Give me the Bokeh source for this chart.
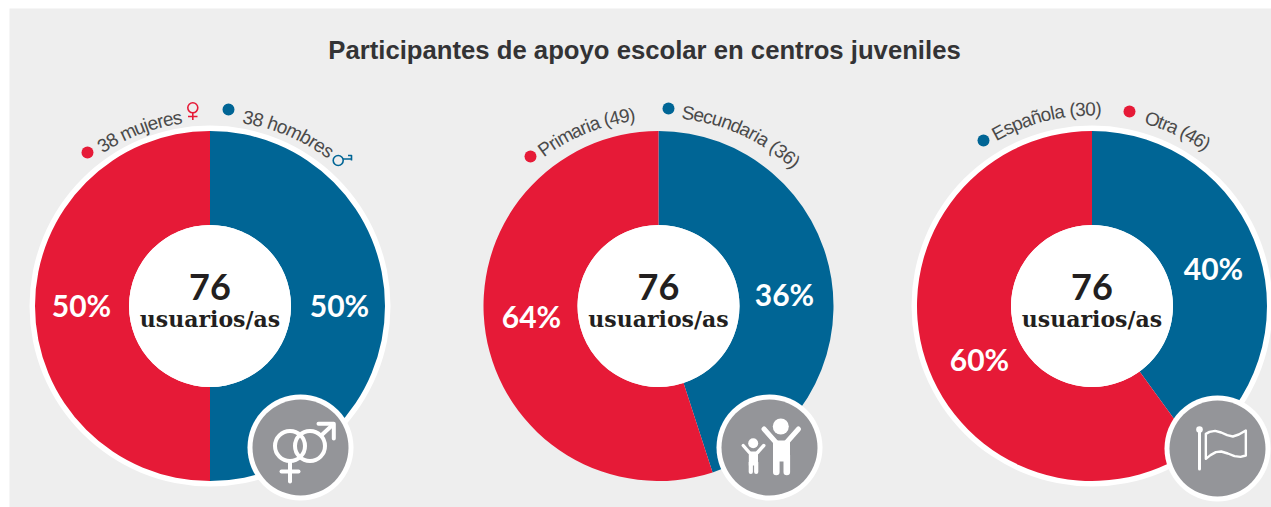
import math
from bokeh.plotting import figure
from bokeh.models import ColumnDataSource, Range1d
from bokeh.core.properties import value
from bokeh.embed import file_html
from bokeh.resources import INLINE

# ---- data ----
title = "Participantes de apoyo escolar en centros juveniles"
total_value = "76"
total_label = "usuarios/as"
arc_shares_gender = [50, 50]     # blue, red, clockwise from the top
arc_shares_school = [45, 55]
arc_shares_origin = [40, 60]
pct_labels_gender = ["50%", "50%"]
pct_labels_school = ["36%", "64%"]
pct_labels_origin = ["40%", "60%"]
legend_gender = ["38 hombres", "38 mujeres"]
legend_school = ["Secundaria (36)", "Primaria (49)"]
legend_origin = ["Otra (46)", "Española (30)"]

# ---- style / layout ----
BG, RED, BLUE, GREY, INK, LEG = "#eeeeee", "#e61a37", "#006595", "#949599", "#231f20", "#4a4a4a"
R, R_IN, CY = 175, 81, 305.5
ADV = {' ': .278, '(': .333, ')': .333, 'j': .222, 'i': .222, 'l': .222, 'r': .333, 't': .278, 'm': .833,
       's': .5, 'c': .5, 'ñ': .556, 'S': .667, 'E': .667, 'O': .778, 'P': .667}

p = figure(width=1271, height=507, output_backend="svg", toolbar_location=None,
           x_range=Range1d(9, 1271), y_range=Range1d(0, 499),
           min_border_left=9, min_border_top=8, min_border_right=0, min_border_bottom=0,
           background_fill_color=BG, border_fill_color="white", outline_line_color=None)
p.axis.visible = False
p.grid.visible = False


def Y(py):
    return 507 - py


def disk(x, y, r, color):
    p.circle([x], [Y(y)], radius=r, fill_color=color, line_color=None)


def stroke(xs, ys, color="white", w=4.0, cap="round"):
    p.line(xs, [Y(v) for v in ys], line_color=color, line_width=w, line_cap=cap, line_join="round")


def label(x, y, s, size, color, font="Lato", style="bold"):
    p.text([x], [Y(y)], text=[s], text_font=value(font), text_font_size=f"{size}px", text_color=color,
           text_font_style=style, text_align="center", text_baseline="middle")


def arc_text(cx, s, a0, a1, r0, r1):
    adv = [ADV.get(c, .556) for c in s]
    total = sum(adv)
    cum = 0
    xs, ys, ang = [], [], []
    for a in adv:
        t = (cum + a / 2) / total
        th = math.radians(a0 + (a1 - a0) * t)
        r = r0 + (r1 - r0) * t
        xs.append(cx + r * math.sin(th))
        ys.append(Y(CY) + r * math.cos(th))
        ang.append(-th)
        cum += a
    p.text(xs, ys, text=list(s), angle=ang, text_font=value("Liberation Sans"), text_font_size="19px",
           text_color=LEG, text_align="center", text_baseline="alphabetic")


def donut(cx, shares, ring):
    if ring:
        disk(cx, CY, R + 5.5, "white")
    total = sum(shares)
    start = math.pi / 2
    src = {"s": [], "e": [], "c": [BLUE, RED]}
    for v in shares:
        end = start - 2 * math.pi * v / total
        src["s"].append(start)
        src["e"].append(end)
        start = end
    p.annular_wedge(x=cx, y=Y(CY), inner_radius=R_IN, outer_radius=R, start_angle="s", end_angle="e",
                    direction="clock", fill_color="c", line_color=None, source=ColumnDataSource(src))
    disk(cx, CY, R_IN, "white")
    label(cx, 286.5, total_value, 36, INK)
    label(cx, 318.5, total_label, 22, INK, "DejaVu Serif")


def badge(x, y):
    disk(x, y, 53, "white")
    disk(x, y, 48, GREY)


label(644, 49.5, title, 25.7, "#333335", "Liberation Sans", "bold")

# chart 1
donut(209.5, arc_shares_gender, True)
label(339, 304, pct_labels_gender[0], 30, "white")
label(81, 304, pct_labels_gender[1], 30, "white")
disk(87, 152, 6, RED)
disk(228, 109, 6, BLUE)
arc_text(209.5, legend_gender[1], -35, -8.5, 193, 191)
arc_text(209.5, legend_gender[0], 10, 38.7, 192, 195)
badge(300, 447)
for cx in (289.5, 309.5):
    p.circle([cx], [Y(445.5)], radius=15, fill_color=None, line_color="white", line_width=4)
stroke([289.5, 289.5], [461, 481])
stroke([281, 298], [471, 471])
stroke([320.7, 332], [435, 424.5])
stroke([318, 333.3, 333.3], [423.3, 423.3, 438])
# legend sex marks
p.circle([192.3], [Y(107.3)], radius=5, fill_color=None, line_color=RED, line_width=1.6)
stroke([192.3, 192.3], [112, 119.5], RED, 1.6, "butt")
stroke([187.5, 197], [116, 116], RED, 1.6, "butt")
p.circle([337.7], [Y(160)], radius=5, fill_color=None, line_color=BLUE, line_width=1.6)
stroke([342.5, 351], [158.5, 158.5], BLUE, 1.6, "butt")
stroke([347.5, 351, 351], [155, 155, 160], BLUE, 1.6, "butt")

# chart 2
donut(658, arc_shares_school, False)
label(784, 293, pct_labels_school[0], 30, "white")
label(531, 315, pct_labels_school[1], 30, "white")
disk(530, 156, 6, RED)
disk(668, 108, 6, BLUE)
arc_text(658, legend_school[1], -37.5, -7, 194, 193)
arc_text(658, legend_school[0], 7, 44.5, 195, 198)
badge(769, 447)
disk(780.3, 426, 8, "white")
stroke([763.5, 775.5], [428.5, 442], w=5)
stroke([798, 786], [428.5, 442], w=5)
p.quad(left=[772.5], right=[789.5], bottom=[Y(461)], top=[Y(440)], fill_color="white", line_color=None)
stroke([775.8, 775.8], [455, 471.5], w=6.6)
stroke([786.3, 786.3], [455, 471.5], w=6.6)
disk(752.7, 442.7, 5, "white")
stroke([742.7, 748.8], [445, 452], w=3.4)
stroke([763.3, 757], [445, 452], w=3.4)
p.quad(left=[748.3], right=[757.5], bottom=[Y(465)], top=[Y(451)], fill_color="white", line_color=None)
stroke([750.3, 750.3], [462, 471.5], w=4.2)
stroke([755.7, 755.7], [462, 471.5], w=4.2)

# chart 3
donut(1091.5, arc_shares_origin, True)
label(1213, 267, pct_labels_origin[0], 30, "white")
label(979, 358, pct_labels_origin[1], 30, "white")
disk(983, 140, 6, BLUE)
disk(1129, 111, 6, RED)
arc_text(1091.5, legend_origin[1], -30, 2.8, 197, 197)
arc_text(1091.5, legend_origin[0], 16, 36, 196, 198)
badge(1217, 448)
stroke([1199, 1199], [430, 468.5], w=3)
disk(1199, 429, 3.3, "white")
fx = [196, 207, 224, 242, 260, 277, 295, 316, 316, 300, 282, 262, 242, 226, 210, 196, 196]
fy = [160, 154, 151, 156, 164, 168, 162, 150, 225, 229, 227, 219, 213, 215, 224, 235, 160]
stroke([1140 + v / 3 for v in fx], [380 + v / 3 for v in fy], w=2.4)

open("out.html", "w").write(file_html(p, INLINE))
